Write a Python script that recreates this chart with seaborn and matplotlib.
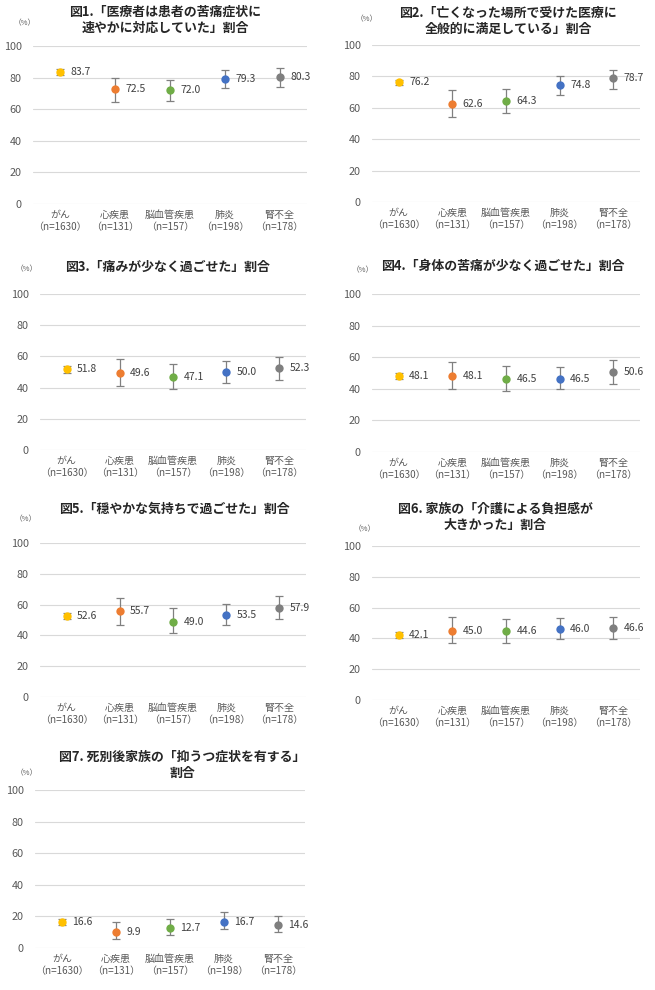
import matplotlib
matplotlib.use("Agg")
import matplotlib.pyplot as plt
import seaborn as sns
import pandas as pd

# ---------------- data ----------------
categories = ["がん", "心疾患", "脳血管疾患", "肺炎", "腎不全"]
sample_sizes = [1630, 131, 157, 198, 178]
colors = ["#FFC000", "#ED7D31", "#70AD47", "#4472C4", "#7F7F7F"]

titles = [
    "図1.「医療者は患者の苦痛症状に\n速やかに対応していた」割合",
    "図2.「亡くなった場所で受けた医療に\n全般的に満足している」割合",
    "図3.「痛みが少なく過ごせた」割合",
    "図4.「身体の苦痛が少なく過ごせた」割合",
    "図5.「穏やかな気持ちで過ごせた」割合",
    "図6. 家族の「介護による負担感が\n大きかった」割合",
    "図7. 死別後家族の「抑うつ症状を有する」\n割合",
]

values_fig1 = [83.7, 72.5, 72.0, 79.3, 80.3]
low_fig1 = [81.9, 64.3, 65.0, 73.4, 73.8]
high_fig1 = [85.3, 80.0, 78.5, 84.6, 86.1]

values_fig2 = [76.2, 62.6, 64.3, 74.8, 78.7]
low_fig2 = [74.4, 54.0, 56.6, 68.4, 71.8]
high_fig2 = [77.9, 71.2, 71.8, 80.5, 84.3]

values_fig3 = [51.8, 49.6, 47.1, 50.0, 52.3]
low_fig3 = [49.6, 41.0, 39.3, 43.2, 45.1]
high_fig3 = [53.9, 58.5, 55.3, 57.3, 59.8]

values_fig4 = [48.1, 48.1, 46.5, 46.5, 50.6]
low_fig4 = [46.0, 39.6, 38.6, 39.6, 42.8]
high_fig4 = [50.2, 56.8, 54.7, 53.8, 58.5]

values_fig5 = [52.6, 55.7, 49.0, 53.5, 57.9]
low_fig5 = [50.5, 46.8, 41.4, 46.6, 50.4]
high_fig5 = [54.7, 64.4, 57.5, 60.6, 65.5]

values_fig6 = [42.1, 45.0, 44.6, 46.0, 46.6]
low_fig6 = [40.0, 37.0, 37.0, 39.4, 39.8]
high_fig6 = [44.2, 53.7, 52.8, 53.5, 54.1]

values_fig7 = [16.6, 9.9, 12.7, 16.7, 14.6]
low_fig7 = [14.8, 5.7, 8.4, 12.0, 9.9]
high_fig7 = [18.4, 16.2, 18.5, 22.5, 20.4]

panel_values = [values_fig1, values_fig2, values_fig3, values_fig4,
                values_fig5, values_fig6, values_fig7]
panel_low = [low_fig1, low_fig2, low_fig3, low_fig4, low_fig5, low_fig6, low_fig7]
panel_high = [high_fig1, high_fig2, high_fig3, high_fig4, high_fig5, high_fig6, high_fig7]

# ---------------- layout (pixels, top-left origin) ----------------
W, H = 655, 990
# plot rectangles: x0, y_top(100), x1, y_bottom(0)
rects = [
    (33, 46, 307, 204),
    (372, 45, 640, 202),
    (40, 294, 306, 450),
    (372, 294, 640, 452),
    (40, 543, 306, 697),
    (372, 546, 640, 700),
    (35, 790, 305, 948),
]
title_pos = [(165, 20), (508, 21), (167, 267), (503, 266), (174, 509), (495, 517), (182, 765)]
pct_pos = [(25, 23), (367, 19), (27, 269), (363, 270), (26, 519), (365, 529), (27, 773)]

sns.set_theme(style="white")
plt.rcParams["font.family"] = ["Noto Sans CJK JP", "DejaVu Sans"]

fig = plt.figure(figsize=(W / 100, H / 100), dpi=100)

tick_color = "#595959"
for i in range(7):
    x0, yt, x1, yb = rects[i]
    ax = fig.add_axes([x0 / W, 1 - yb / H, (x1 - x0) / W, (yb - yt) / H])
    df = pd.DataFrame({
        "category": categories,
        "value": panel_values[i],
        "low": panel_low[i],
        "high": panel_high[i],
    })
    sns.stripplot(data=df, x="category", y="value", hue="category",
                  palette=colors, jitter=False, size=6.0, legend=False,
                  ax=ax, zorder=4, linewidth=0, clip_on=False)
    xpos = list(range(len(categories)))
    ax.errorbar(xpos, df["value"],
                yerr=[df["value"] - df["low"], df["high"] - df["value"]],
                fmt="none", ecolor="#808080", elinewidth=0.9, capsize=2.6,
                capthick=0.9, zorder=3, clip_on=False)
    for xp, v in zip(xpos, df["value"]):
        ax.annotate(f"{v:.1f}", (xp, v), xytext=(7.5, 0), textcoords="offset points",
                    va="center", ha="left", fontsize=7.5, color="#404040")
    ax.set_xlim(-0.5, len(categories) - 0.5)
    ax.set_ylim(0, 100)
    ax.set_yticks([0, 20, 40, 60, 80, 100])
    ax.yaxis.grid(True, color="#D9D9D9", linewidth=0.8)
    ax.xaxis.grid(False)
    for s in ax.spines.values():
        s.set_visible(False)
    ax.set_xticks(xpos)
    ax.set_xticklabels([f"{c}\n（n={n}）" for c, n in zip(categories, sample_sizes)],
                       fontsize=7.2, color=tick_color, linespacing=1.25)
    ax.tick_params(axis="x", length=0, pad=4)
    ax.tick_params(axis="y", length=0, pad=8, labelsize=7.8, labelcolor=tick_color)
    ax.set_xlabel("")
    ax.set_ylabel("")
    ax.set_axisbelow(True)

    tx, ty = title_pos[i]
    fig.text(tx / W, 1 - ty / H, titles[i], ha="center", va="center",
             fontsize=9.3, fontweight="bold", color="#262626", linespacing=1.2)
    px, py = pct_pos[i]
    fig.text(px / W, 1 - py / H, "（%）", ha="center", va="center",
             fontsize=5.5, color=tick_color)

fig.savefig("out.png", dpi=100, facecolor="white")
